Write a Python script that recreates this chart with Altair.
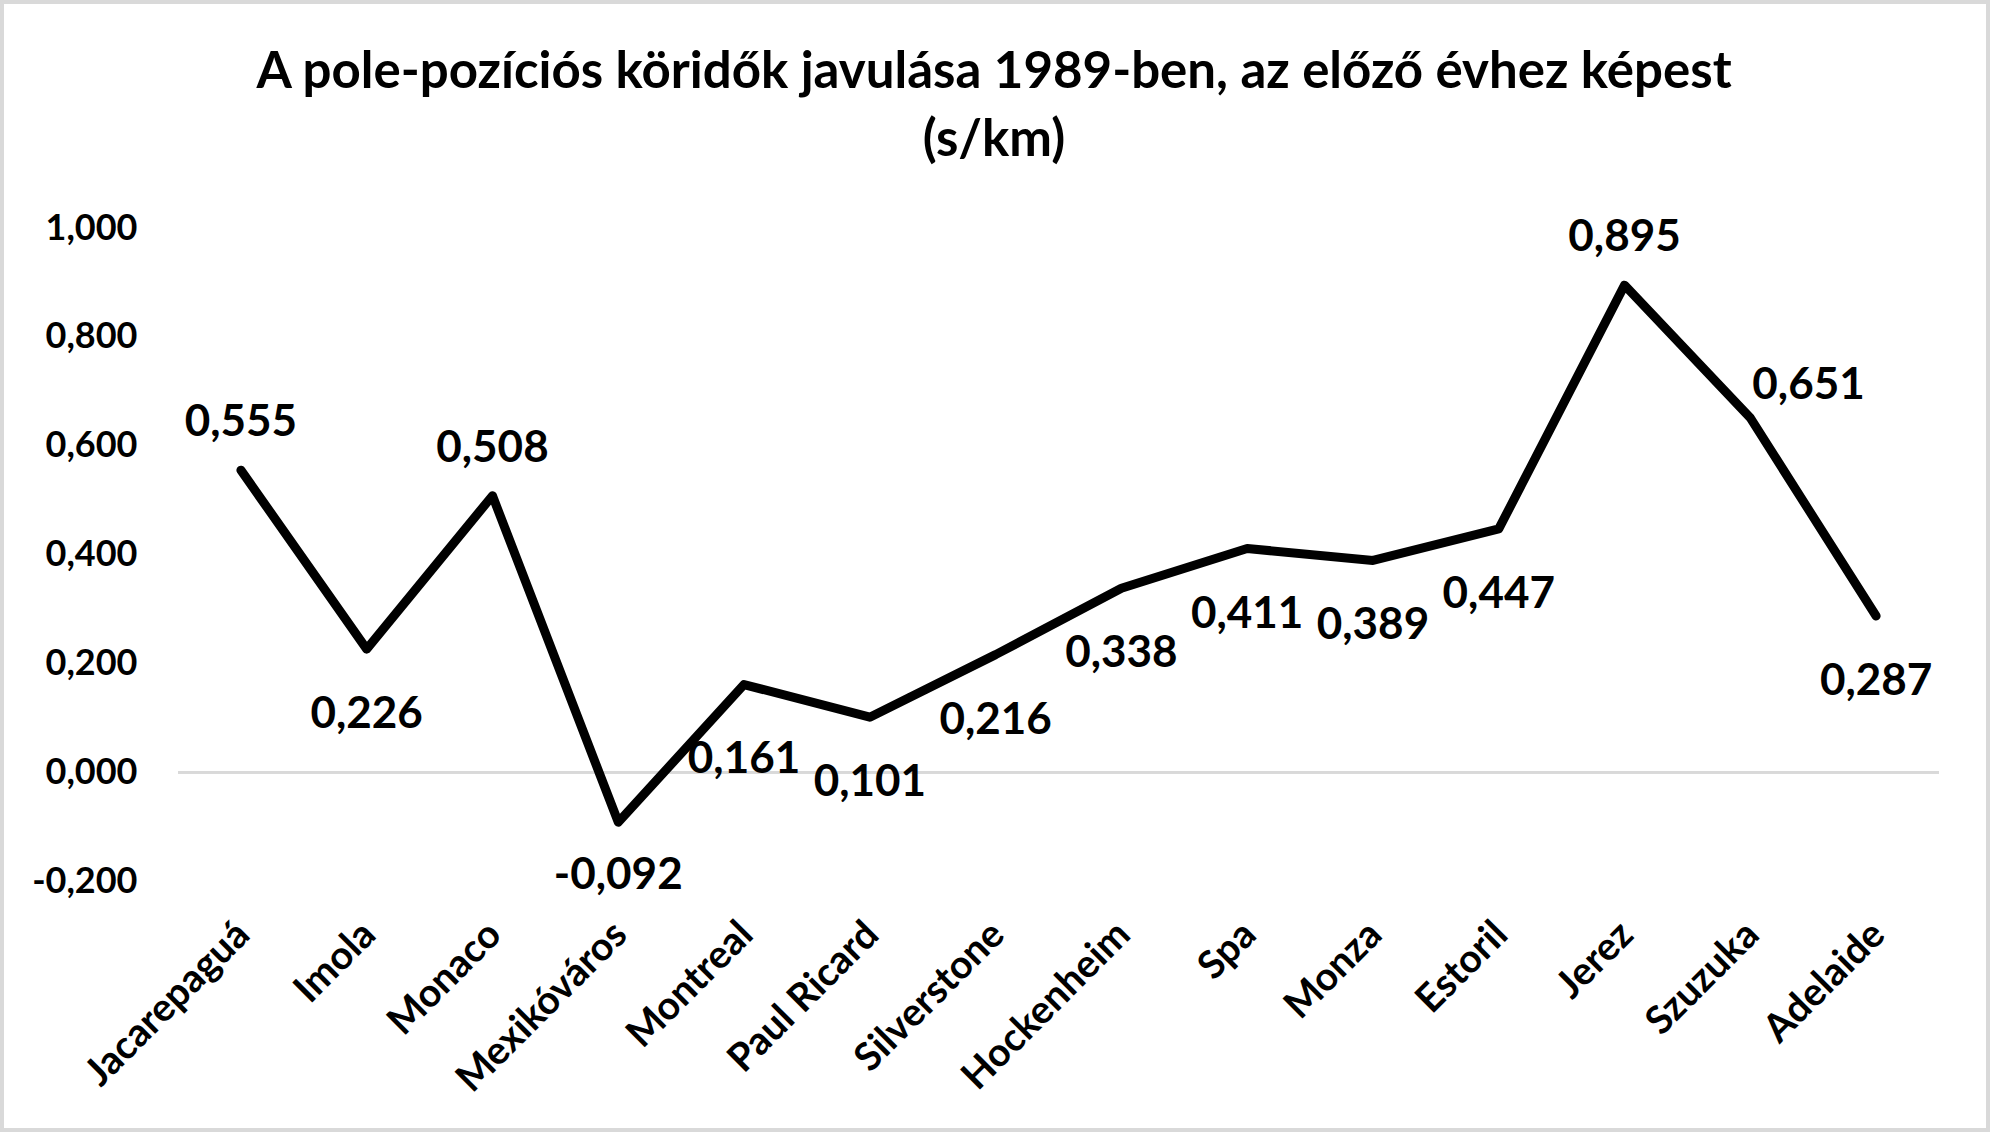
import altair as alt
import pandas as pd

# ---- data ----
title_lines = [
    "A pole-pozíciós köridők javulása 1989-ben, az előző évhez képest",
    "(s/km)",
]
categories = ["Jacarepaguá", "Imola", "Monaco", "Mexikóváros", "Montreal",
              "Paul Ricard", "Silverstone", "Hockenheim", "Spa", "Monza",
              "Estoril", "Jerez", "Szuzuka", "Adelaide"]
values = [0.555, 0.226, 0.508, -0.092, 0.161, 0.101, 0.216, 0.338,
          0.411, 0.389, 0.447, 0.895, 0.651, 0.287]
# data-label placement, as Excel placed them in the reference
label_placement = ["above", "below", "above", "below_near", "below_far",
                   "below", "below", "below", "below", "below", "below",
                   "above", "right", "below"]
y_ticks = [-0.2, 0.0, 0.2, 0.4, 0.6, 0.8, 1.0]

df = pd.DataFrame({
    "circuit": categories,
    "value": values,
    "label": [f"{v:.3f}".replace(".", ",") for v in values],
    "place": label_placement,
})

FONT = "Lato"
W, H = 1761, 653
PAD = {"left": 178, "top": 228, "right": 51, "bottom": 251}

x_enc = alt.X("circuit:N", sort=categories,
              scale=alt.Scale(type="point", padding=0.5),
              axis=alt.Axis(title=None, labelAngle=-45, labelAlign="right",
                            labelBaseline="middle", labelFont=FONT,
                            labelFontSize=39, labelFontWeight="bold",
                            labelColor="black", labelPadding=47,
                            labelOffset=2, ticks=False, domain=False,
                            grid=False, labelOverlap=False, labelLimit=0))
y_enc = alt.Y("value:Q",
              scale=alt.Scale(domain=[-0.2, 1.0], nice=False, zero=False),
              axis=alt.Axis(title=None, values=y_ticks, ticks=False,
                            tickSize=0, domain=False, grid=False,
                            labelFont=FONT, labelFontSize=36,
                            labelFontWeight="bold", labelColor="black",
                            labelPadding=41,
                            labelExpr="replace(replace(format(datum.value, '.3f'), '.', ','), '\u2212', '-')"))

base = alt.Chart(df)

zero_rule = base.mark_rule(color="#d9d9d9", strokeWidth=2.5).encode(
    y=alt.datum(0))

line = base.mark_line(color="black", strokeWidth=9, strokeCap="round",
                      strokeJoin="round").encode(x=x_enc, y=y_enc)

label_style = dict(font=FONT, fontSize=44, fontWeight="bold", color="black")
placement_offsets = {
    "above": dict(dx=0, dy=-47, align="center"),
    "below": dict(dx=0, dy=66, align="center"),
    "below_near": dict(dx=0, dy=54, align="center"),
    "below_far": dict(dx=0, dy=75, align="center"),
    "right": dict(dx=2, dy=-32, align="left"),
}
label_layers = [
    base.transform_filter(alt.datum.place == name).mark_text(
        baseline="middle", **opts, **label_style).encode(
        x=x_enc, y=y_enc, text="label:N")
    for name, opts in placement_offsets.items()
]

title_style = dict(font=FONT, fontSize=51, fontWeight="bold", color="black",
                   align="center", baseline="alphabetic")
t1 = alt.Chart(pd.DataFrame({"t": [title_lines[0]]})).mark_text(
    **title_style).encode(x=alt.value(816), y=alt.value(-140), text="t:N")
t2 = alt.Chart(pd.DataFrame({"t": [title_lines[1]]})).mark_text(
    **title_style).encode(x=alt.value(816), y=alt.value(-72), text="t:N")

frame = alt.Chart(pd.DataFrame({"a": [0]})).mark_rect(
    fillOpacity=0, stroke="#d9d9d9", strokeWidth=4).encode(
    x=alt.value(-176), x2=alt.value(1810), y=alt.value(-226), y2=alt.value(902))

chart = alt.layer(frame, zero_rule, line, *label_layers,
                  t1, t2).properties(
    width=W, height=H, padding=PAD,
    autosize=alt.AutoSizeParams(type="none"),
    background="white",
).configure_view(stroke=None)

chart.save("out.html", embed_options={"renderer": "svg", "actions": False})
